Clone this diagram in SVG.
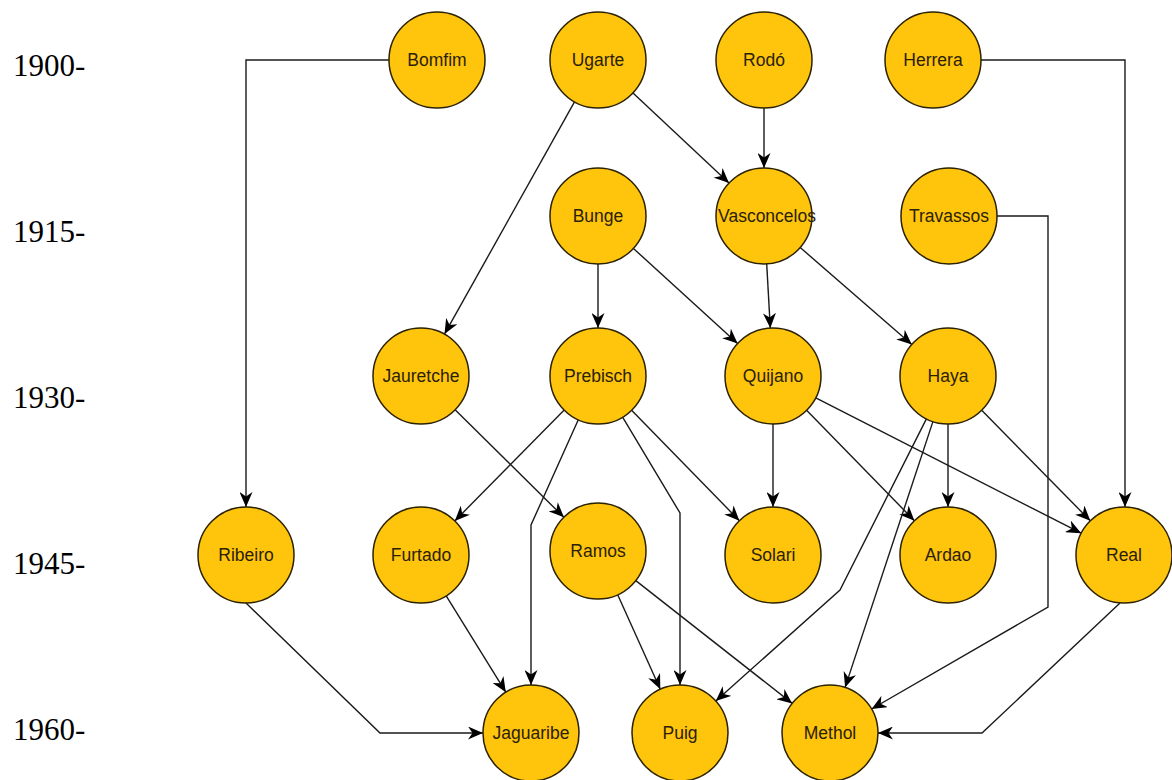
<svg xmlns="http://www.w3.org/2000/svg" width="1172" height="780" viewBox="0 0 1172 780">
<style>
.node circle{fill:#FFC40C;stroke:#2b2200;stroke-width:1.5}
.node text{font-family:"Liberation Sans",Arial,sans-serif;font-size:17.5px;fill:#2a2108;text-anchor:middle;dominant-baseline:central}
.year{font-family:"Liberation Serif","Times New Roman",serif;font-size:31px;fill:#000}
#connectors path{fill:none;stroke:#1a1a1a;stroke-width:1.4;marker-end:url(#arr)}
</style>
<defs>
<marker id="arr" markerUnits="userSpaceOnUse" viewBox="0 0 15 13" refX="15" refY="6.5" markerWidth="15" markerHeight="13" orient="auto">
<path d="M0,0 L15,6.5 L0,13 L4.5,6.5 Z" fill="#000"/>
</marker>
</defs>
<rect width="1172" height="780" fill="#fff"/>
<g id="years">
<text class="year" x="13" y="76">1900-</text>
<text class="year" x="13" y="242">1915-</text>
<text class="year" x="13" y="408">1930-</text>
<text class="year" x="13" y="574">1945-</text>
<text class="year" x="13" y="740">1960-</text>
</g>
<g id="connectors">
<path d="M389,60 H246 V507"/>
<path d="M574.5,101.9 L444.5,334.1"/>
<path d="M633,92.9 L729,183.1"/>
<path d="M764,108 V168"/>
<path d="M981,60 H1125 V507"/>
<path d="M598,264 V328"/>
<path d="M633.4,248.4 L737.6,343.6"/>
<path d="M766.7,263.9 L770.3,328.1"/>
<path d="M800.2,247.5 L911.8,344.5"/>
<path d="M997,216 H1048 V607 L871.6,709"/>
<path d="M455.1,409.7 L563.9,517.3"/>
<path d="M564.2,410.1 L454.8,520.9"/>
<path d="M578.3,419.8 L531,525 V685"/>
<path d="M622.6,417.2 L680,513 V685"/>
<path d="M631.6,410.3 L739.4,520.7"/>
<path d="M773,424 V507"/>
<path d="M806.6,410.3 L914.4,520.7"/>
<path d="M815.8,397.8 L1081.2,533.2"/>
<path d="M948,424 V507"/>
<path d="M981.7,410.2 L1090.3,520.8"/>
<path d="M926.4,418.9 L840,590 L715.8,701"/>
<path d="M932.9,421.6 L845.1,687.4"/>
<path d="M246,603 L380,733 H483"/>
<path d="M446.2,595.8 L505.8,692.2"/>
<path d="M617.7,594.8 L660.3,689.2"/>
<path d="M635.8,580.6 L792.2,703.4"/>
<path d="M1120,603 L982,733 H878"/>
</g>
<g id="n-bomfim" class="node"><circle cx="437" cy="60" r="48"/><text x="437" y="60">Bomfim</text></g>
<g id="n-ugarte" class="node"><circle cx="598" cy="60" r="48"/><text x="598" y="60">Ugarte</text></g>
<g id="n-rodo" class="node"><circle cx="764" cy="60" r="48"/><text x="764" y="60">Rodó</text></g>
<g id="n-herrera" class="node"><circle cx="933" cy="60" r="48"/><text x="933" y="60">Herrera</text></g>
<g id="n-bunge" class="node"><circle cx="598" cy="216" r="48"/><text x="598" y="216">Bunge</text></g>
<g id="n-vasconcelos" class="node"><circle cx="764" cy="216" r="48"/><text x="767" y="216">Vasconcelos</text></g>
<g id="n-travassos" class="node"><circle cx="949" cy="216" r="48"/><text x="949" y="216">Travassos</text></g>
<g id="n-jauretche" class="node"><circle cx="421" cy="376" r="48"/><text x="421" y="376">Jauretche</text></g>
<g id="n-prebisch" class="node"><circle cx="598" cy="376" r="48"/><text x="598" y="376">Prebisch</text></g>
<g id="n-quijano" class="node"><circle cx="773" cy="376" r="48"/><text x="773" y="376">Quijano</text></g>
<g id="n-haya" class="node"><circle cx="948" cy="376" r="48"/><text x="948" y="376">Haya</text></g>
<g id="n-ribeiro" class="node"><circle cx="246" cy="555" r="48"/><text x="246" y="555">Ribeiro</text></g>
<g id="n-furtado" class="node"><circle cx="421" cy="555" r="48"/><text x="421" y="555">Furtado</text></g>
<g id="n-ramos" class="node"><circle cx="598" cy="551" r="48"/><text x="598" y="551">Ramos</text></g>
<g id="n-solari" class="node"><circle cx="773" cy="555" r="48"/><text x="773" y="555">Solari</text></g>
<g id="n-ardao" class="node"><circle cx="948" cy="555" r="48"/><text x="948" y="555">Ardao</text></g>
<g id="n-real" class="node"><circle cx="1124" cy="555" r="48"/><text x="1124" y="555">Real</text></g>
<g id="n-jaguaribe" class="node"><circle cx="531" cy="733" r="48"/><text x="531" y="733">Jaguaribe</text></g>
<g id="n-puig" class="node"><circle cx="680" cy="733" r="48"/><text x="680" y="733">Puig</text></g>
<g id="n-methol" class="node"><circle cx="830" cy="733" r="48"/><text x="830" y="733">Methol</text></g>
</svg>
